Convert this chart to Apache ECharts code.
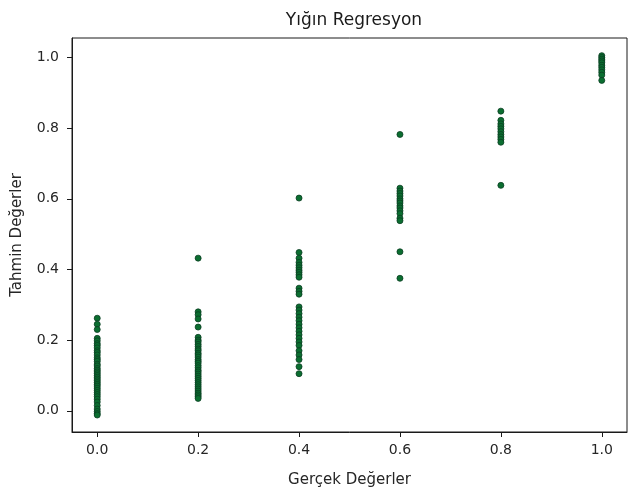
<!DOCTYPE html>
<html>
<head>
<meta charset="utf-8">
<script src="https://cdn.jsdelivr.net/npm/echarts@6/dist/echarts.min.js"></script>
<style>html,body{margin:0;padding:0;background:#fff}#c{width:630px;height:493px}</style>
</head>
<body>
<div id="c"></div>
<script>
const titleText = "Yığın Regresyon";
const xName = "Gerçek Değerler";
const yName = "Tahmin Değerler";
const tickValues = [0.0, 0.2, 0.4, 0.6, 0.8, 1.0];
const actualLevels = [0.0, 0.2, 0.4, 0.6, 0.8, 1.0];

const pred00 = [0.262, 0.245, 0.23, 0.205, 0.198, 0.19, 0.185, 0.178, 0.17, 0.165, 0.158, 0.15, 0.145, 0.14, 0.132, 0.127, 0.12, 0.115, 0.11, 0.105, 0.1, 0.095, 0.09, 0.085, 0.08, 0.075, 0.07, 0.064, 0.058, 0.052, 0.046, 0.04, 0.033, 0.025, 0.015, 0.005, -0.002, -0.008, -0.012];
const pred02 = [0.432, 0.28, 0.272, 0.26, 0.237, 0.208, 0.2, 0.195, 0.188, 0.182, 0.175, 0.17, 0.163, 0.158, 0.152, 0.145, 0.14, 0.135, 0.128, 0.122, 0.115, 0.11, 0.104, 0.098, 0.092, 0.086, 0.08, 0.074, 0.068, 0.062, 0.056, 0.05, 0.045, 0.04, 0.035];
const pred04 = [0.602, 0.448, 0.432, 0.42, 0.412, 0.405, 0.398, 0.392, 0.385, 0.378, 0.347, 0.338, 0.33, 0.294, 0.285, 0.275, 0.265, 0.255, 0.245, 0.235, 0.225, 0.215, 0.205, 0.195, 0.185, 0.17, 0.158, 0.145, 0.125, 0.105];
const pred06 = [0.782, 0.63, 0.622, 0.615, 0.608, 0.6, 0.594, 0.588, 0.58, 0.574, 0.566, 0.558, 0.545, 0.538, 0.45, 0.375];
const pred08 = [0.848, 0.822, 0.812, 0.805, 0.798, 0.79, 0.782, 0.775, 0.768, 0.76, 0.638];
const pred10 = [1.005, 1.0, 0.995, 0.99, 0.985, 0.978, 0.972, 0.965, 0.958, 0.95, 0.935];

const groups = [pred00, pred02, pred04, pred06, pred08, pred10];
const points = [];
groups.forEach((arr, i) => arr.forEach(v => points.push([actualLevels[i], v])));

const font = "DejaVu Sans";
const chart = echarts.init(document.getElementById('c'), null, {renderer: 'canvas'});
function axisCommon(labelMargin) {
  return {
    axisLine: {show: true, onZero: false, lineStyle: {color: '#1a1a1a', width: 1}},
    splitLine: {show: false},
    axisTick: {show: true, length: 5, inside: false, customValues: tickValues, lineStyle: {color: '#1a1a1a', width: 1}},
    axisLabel: {customValues: tickValues, fontFamily: font, fontSize: 14, color: '#262626', margin: labelMargin,
      formatter: v => v.toFixed(1)}
  };
}
chart.setOption({
  backgroundColor: '#fff',
  animation: false,
  title: {
    text: titleText, left: 349, top: 7, textAlign: 'center',
    textStyle: {fontFamily: font, fontSize: 17, fontWeight: 'normal', color: '#1a1a1a'}
  },
  grid: {left: 72, right: 3, top: 38, bottom: 61, show: true, borderColor: '#1a1a1a', borderWidth: 1, backgroundColor: 'transparent'},
  xAxis: Object.assign({
    type: 'value', min: -0.05, max: 1.05,
    name: xName, nameLocation: 'middle', nameGap: 41,
    nameTextStyle: {fontFamily: font, fontSize: 15, color: '#262626'}
  }, axisCommon(11)),
  yAxis: Object.assign({
    type: 'value', min: -0.06, max: 1.055,
    name: yName, nameLocation: 'middle', nameGap: 47, nameRotate: 90,
    nameTextStyle: {fontFamily: font, fontSize: 15, color: '#262626'}
  }, axisCommon(13)),
  series: [{
    type: 'scatter',
    data: points,
    symbol: 'circle',
    symbolSize: 6,
    itemStyle: {color: '#0b6e30', borderColor: '#0a3d22', borderWidth: 0.8, opacity: 1}
  }]
});
</script>
</body>
</html>
